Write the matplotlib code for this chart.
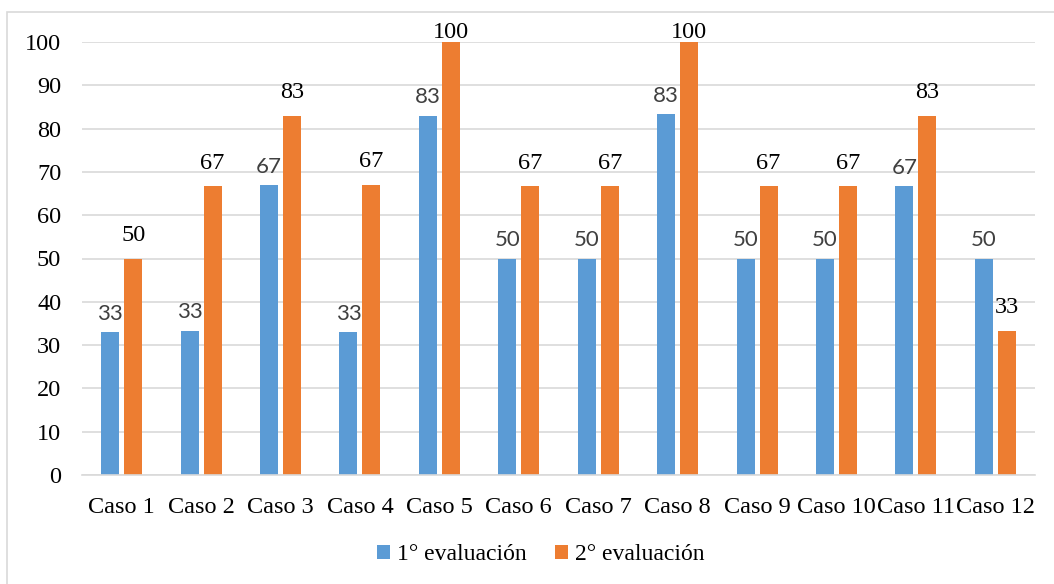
import numpy as np
import matplotlib
matplotlib.use("Agg")
import matplotlib.pyplot as plt
from matplotlib.patches import Rectangle

# Scores per case (percent)
casos = ["Caso 1", "Caso 2", "Caso 3", "Caso 4", "Caso 5", "Caso 6",
         "Caso 7", "Caso 8", "Caso 9", "Caso 10", "Caso 11", "Caso 12"]
eval_1 = [33.0, 33.3, 67.0, 33.0, 83.0, 50.0, 50.0, 83.3, 50.0, 50.0, 66.7, 50.0]
eval_2 = [50.0, 66.7, 83.0, 67.0, 100.0, 66.7, 66.7, 100.0, 66.7, 66.7, 83.0, 33.3]
series_names = ["1° evaluación", "2° evaluación"]

blue = "#5B9BD5"
orange = "#ED7D31"
serif = "Liberation Serif"

fig = plt.figure(figsize=(10.54, 5.84), dpi=100)
ax = fig.add_axes([82 / 1054, 1 - 475 / 584, (1035 - 82) / 1054, (475 - 42) / 584])

# chart frame
fig.patches.append(Rectangle((7 / 1054, -0.1), 1.2, 1 - 12 / 584 + 0.1,
                             transform=fig.transFigure, fill=False,
                             edgecolor="#d9d9d9", lw=1.2))

x = np.arange(len(casos))
w = 0.227
off = 0.145
b1 = ax.bar(x - off, eval_1, w, color=blue, label=series_names[0], zorder=2)
b2 = ax.bar(x + off, eval_2, w, color=orange, label=series_names[1], zorder=2)

# value labels
for rect, v in zip(b1, eval_1):
    ax.annotate(f"{v:.0f}", (rect.get_x() + rect.get_width() / 2, v),
                xytext=(0, 0 if v >= 100 else 6), textcoords="offset points",
                ha="center", va="bottom", fontsize=16, family="Lato",
                color="#404040", annotation_clip=False)
for rect, v in zip(b2, eval_2):
    ax.annotate(f"{v:.0f}", (rect.get_x() + rect.get_width() / 2, v),
                xytext=(0, -1 if v >= 100 else 9), textcoords="offset points",
                ha="center", va="bottom", fontsize=17.5, family=serif,
                color="black", annotation_clip=False)

ax.set_xlim(-0.5, len(casos) - 0.5)
ax.set_ylim(0, 100)
ax.set_yticks(np.arange(0, 101, 10))
ax.set_xticks(x)
ax.set_xticklabels(casos, family=serif, fontsize=17.5)
for lab in ax.get_yticklabels():
    lab.set_family(serif)
    lab.set_fontsize(17.5)

ax.grid(axis="y", color="#d9d9d9", lw=1.2, zorder=0)
ax.tick_params(length=0)
ax.tick_params(axis="y", pad=15)
ax.tick_params(axis="x", pad=16)
for s in ["top", "right", "left"]:
    ax.spines[s].set_visible(False)
ax.spines["bottom"].set_color("#d9d9d9")
ax.spines["bottom"].set_linewidth(1.2)

fig.legend(loc="center", bbox_to_anchor=(541 / 1054, 1 - 555 / 584), ncol=2,
           frameon=False, prop={"family": serif, "size": 17},
           handlelength=0.55, handleheight=0.55, handletextpad=0.3,
           columnspacing=1.2)

fig.savefig("out.png", dpi=100)
